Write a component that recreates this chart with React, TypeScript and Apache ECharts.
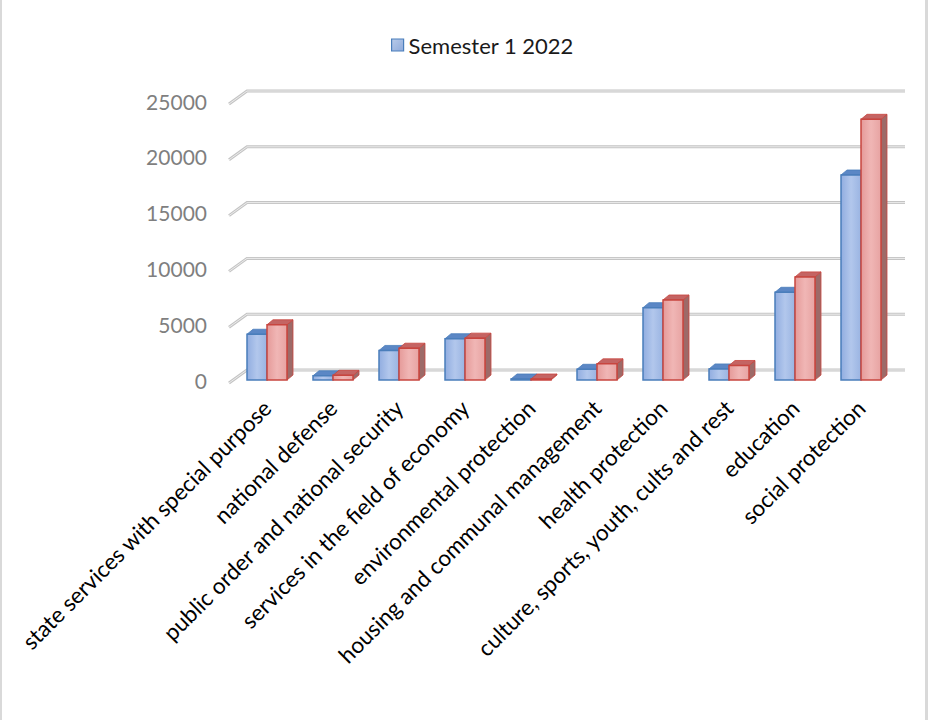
import React, { useEffect, useRef } from "react";
import * as echarts from "echarts";

const categories = [
  "state services with special purpose",
  "national defense",
  "public order and national security",
  "services in the field of economy",
  "environmental protection",
  "housing and communal management",
  "health protection",
  "culture, sports, youth, cults and rest",
  "education",
  "social protection",
];
const semester2022 = [4100, 380, 2650, 3700, 90, 960, 6480, 990, 7860, 18370];
const semester2023 = [4950, 420, 2850, 3750, 70, 1450, 7170, 1300, 9240, 23360];
const yTicks = [0, 5000, 10000, 15000, 20000, 25000];

const FONT = "Lato, 'Open Sans', sans-serif";

export default function App() {
  const ref = useRef<HTMLDivElement>(null);

  useEffect(() => {
    const chart = echarts.init(ref.current!, null, { renderer: "svg" });

    const BAR_W = 20;
    const DX = 6;
    const DY = -5;

    const makeBar = (
      shift: number,
      front: any,
      side: string,
      top: string,
      border: string
    ) => (params: any, api: any) => {
      const idx = api.value(0);
      const [cx, base] = api.coord([idx, 0]);
      const yTop = api.coord([idx, api.value(1)])[1];
      const x0 = cx + shift * BAR_W;
      const x1 = x0 + BAR_W;
      const h = Math.max(base - yTop, 1);
      const y0 = base - h;
      return {
        type: "group",
        children: [
          {
            type: "polygon",
            shape: {
              points: [
                [x1, y0],
                [x1 + DX, y0 + DY],
                [x1 + DX, base + DY],
                [x1, base],
              ],
            },
            style: { fill: side, stroke: border, lineWidth: 0.8 },
          },
          {
            type: "polygon",
            shape: {
              points: [
                [x0, y0],
                [x0 + DX, y0 + DY],
                [x1 + DX, y0 + DY],
                [x1, y0],
              ],
            },
            style: { fill: top, stroke: border, lineWidth: 0.8 },
          },
          {
            type: "rect",
            shape: { x: x0, y: y0, width: BAR_W, height: h },
            style: { fill: front, stroke: border, lineWidth: 1.5 },
          },
        ],
      };
    };

    const blueFront = new echarts.graphic.LinearGradient(0, 0, 1, 0, [
      { offset: 0, color: "#91ade0" },
      { offset: 0.5, color: "#b2c7ec" },
      { offset: 1, color: "#9ab4e2" },
    ]);
    const redFront = new echarts.graphic.LinearGradient(0, 0, 1, 0, [
      { offset: 0, color: "#e59a99" },
      { offset: 0.5, color: "#f0b6b5" },
      { offset: 1, color: "#e7a3a2" },
    ]);

    const gridRender = (params: any, api: any) => {
      const cs = params.coordSys;
      const y = api.coord([0, api.value(1)])[1];
      const fx = cs.x - 5;
      const fy = y + 3;
      const bx = fx + 18;
      const by = fy - 13;
      const ex = cs.x + cs.width + 11;
      const pts = [
        [fx, fy],
        [bx, by],
        [ex, by],
      ];
      return {
        type: "group",
        children: [
          {
            type: "polyline",
            shape: { points: pts },
            style: { stroke: "#c4c4c4", lineWidth: 3, fill: "none" },
          },
          {
            type: "polyline",
            shape: { points: pts },
            style: { stroke: "#ececec", lineWidth: 1, fill: "none" },
          },
        ],
      };
    };

    chart.setOption({
      animation: false,
      backgroundColor: "#ffffff",
      textStyle: { fontFamily: FONT },
      legend: {
        data: [
          {
            name: "Semester 1 2022",
            icon: "rect",
            itemStyle: {
              color: new echarts.graphic.LinearGradient(0, 0, 1, 1, [
                { offset: 0, color: "#b9cbe9" },
                { offset: 1, color: "#8eaadb" },
              ]),
              borderColor: "#4a7ebb",
              borderWidth: 1.2,
            },
          },
        ],
        left: 391,
        top: 33,
        padding: 0,
        itemWidth: 12,
        itemHeight: 12,
        itemGap: 6,
        textStyle: {
          fontFamily: FONT,
          fontSize: 22,
          color: "#1a1a1a",
          lineHeight: 24,
        },
        selectedMode: false,
      },
      grid: { left: 234, right: 34, top: 101, bottom: 340 },
      xAxis: {
        type: "category",
        data: categories,
        axisLine: { show: false },
        axisTick: { show: false },
        splitLine: { show: false },
        axisLabel: {
          interval: 0,
          rotate: 45,
          margin: 24,
          fontFamily: FONT,
          fontSize: 22.5,
          color: "#000000",
        },
      },
      yAxis: {
        type: "value",
        min: 0,
        max: 25000,
        interval: 5000,
        axisLine: { show: false },
        axisTick: { show: false },
        splitLine: { show: false },
        axisLabel: {
          margin: 27,
          fontFamily: FONT,
          fontSize: 21,
          color: "#7f7f7f",
          padding: [8, 0, 0, 0],
          formatter: (v: number) => String(v),
        },
      },
      graphic: [
        {
          type: "rect",
          shape: { x: 0, y: 0, width: 2, height: 720 },
          style: { fill: "#d9d9d9" },
        },
        {
          type: "rect",
          shape: { x: 925, y: 0, width: 3, height: 720 },
          style: { fill: "#d9d9d9" },
        },
      ],
      series: [
        {
          type: "custom",
          name: "gridlines",
          silent: true,
          renderItem: gridRender,
          data: yTicks.map((v) => [0, v]),
          z: 1,
        },
        {
          type: "custom",
          name: "Semester 1 2022",
          renderItem: makeBar(-1, blueFront, "#6f8fbf", "#5b87c5", "#4a7ebb"),
          itemStyle: { color: "#9db6e0" },
          data: semester2022.map((v, i) => [i, v]),
          z: 2,
        },
        {
          type: "custom",
          name: "Semester 1 2023",
          renderItem: makeBar(0, redFront, "#9d6a68", "#c46463", "#c8453f"),
          itemStyle: { color: "#e7a3a2" },
          data: semester2023.map((v, i) => [i, v]),
          z: 3,
        },
      ],
    });

    return () => chart.dispose();
  }, []);

  return (
    <div
      ref={ref}
      style={{ position: "absolute", left: 0, top: 0, width: 928, height: 720 }}
    />
  );
}
